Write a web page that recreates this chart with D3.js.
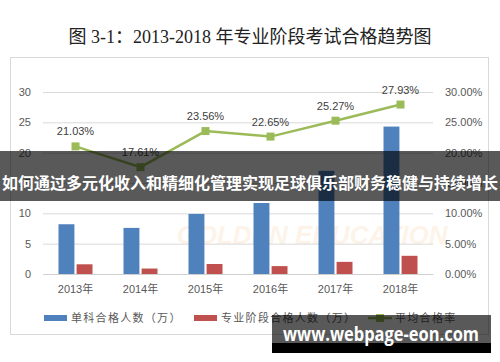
<!DOCTYPE html>
<html>
<head>
<meta charset="utf-8">
<script src="https://cdn.jsdelivr.net/npm/d3@7"></script>
<style>
  body { margin: 0; background: #fff; }
  svg { display: block; }
</style>
</head>
<body>
<svg id="chart" width="500" height="362"></svg>
<script>
// DATA
const years = ["2013年", "2014年", "2015年", "2016年", "2017年", "2018年"];
const singlePass = [8.2, 7.6, 9.9, 11.7, 17.0, 24.3];   // 单科合格人数（万）
const stagePass = [1.6, 0.9, 1.65, 1.3, 2.0, 3.0];      // 专业阶段合格人数（万）
const passRate = [0.2103, 0.1761, 0.2356, 0.2265, 0.2527, 0.2793]; // 平均合格率
const leftTicks = [0, 5, 10, 15, 20, 25, 30];
const rightTicks = [0, 0.05, 0.10, 0.15, 0.20, 0.25, 0.30];
const seriesNames = ["单科合格人数（万）", "专业阶段合格人数（万）", "平均合格率"];

const svg = d3.select("#chart");
const plot = { left: 43, right: 433, top: 92, bottom: 274 };
const colors = { blue: "#4F81BD", red: "#C0504D", green: "#9BBB59" };
const labelFont = "'Liberation Sans', 'Noto Sans CJK SC', sans-serif";

// title + frame
svg.append("text")
  .attr("x", 250).attr("y", 43)
  .attr("text-anchor", "middle")
  .style("font-family", "'Liberation Serif', 'Noto Sans CJK SC', serif")
  .style("font-size", "18px")
  .attr("fill", "#222")
  .text("图 3-1：2013-2018 年专业阶段考试合格趋势图");

svg.append("rect")
  .attr("x", 10.5).attr("y", 57.5)
  .attr("width", 478).attr("height", 277)
  .attr("fill", "none").attr("stroke", "#d9d9d9");

// SCALES
const x = d3.scaleBand().domain(years).range([plot.left, plot.right]);
const x1 = d3.scaleBand().domain(["a", "b"]).range([-17, 17]).paddingInner(0.12);
const y = d3.scaleLinear().domain([0, 30]).range([plot.bottom, plot.top]);
const yR = d3.scaleLinear().domain([0, 0.30]).range([plot.bottom, plot.top]);

// watermark
svg.append("text")
  .attr("x", 312).attr("y", 244)
  .attr("text-anchor", "middle")
  .style("font-family", labelFont)
  .style("font-size", "26px").style("font-style", "italic").style("font-weight", "bold")
  .attr("fill", "#f2b470").attr("opacity", 0.15)
  .text("GOLDEN EDUCATION");

// AXES
const gy = svg.append("g")
  .attr("transform", `translate(${plot.left},0)`)
  .call(d3.axisLeft(y).tickValues(leftTicks).tickSize(-(plot.right - plot.left)).tickPadding(12));
gy.select(".domain").remove();
gy.selectAll(".tick line").attr("stroke", "#d9d9d9");
gy.selectAll(".tick text").attr("fill", "#595959")
  .style("font-family", labelFont).style("font-size", "11px");

const gr = svg.append("g")
  .attr("transform", `translate(${plot.right},0)`)
  .call(d3.axisRight(yR).tickValues(rightTicks).tickSize(0).tickPadding(12).tickFormat(d3.format(".2%")));
gr.select(".domain").remove();
gr.selectAll(".tick text").attr("fill", "#595959")
  .style("font-family", labelFont).style("font-size", "11px");

const gx = svg.append("g")
  .attr("transform", `translate(0,${plot.bottom})`)
  .call(d3.axisBottom(x).tickSize(0).tickPadding(11));
gx.select(".domain").attr("stroke", "#d0d0d0");
gx.selectAll(".tick text").attr("fill", "#595959")
  .style("font-family", labelFont).style("font-size", "11px");

// BARS
const rows = years.map((yr, i) => ({ yr, a: singlePass[i], b: stagePass[i], r: passRate[i] }));
const cx = (d) => x(d.yr) + x.bandwidth() / 2;

svg.append("g").selectAll("rect").data(rows).join("rect")
  .attr("x", (d) => cx(d) + x1("a"))
  .attr("y", (d) => y(d.a))
  .attr("width", x1.bandwidth())
  .attr("height", (d) => y(0) - y(d.a))
  .attr("fill", colors.blue);

svg.append("g").selectAll("rect").data(rows).join("rect")
  .attr("x", (d) => cx(d) + x1("b"))
  .attr("y", (d) => y(d.b))
  .attr("width", x1.bandwidth())
  .attr("height", (d) => y(0) - y(d.b))
  .attr("fill", colors.red);

// LINE
const line = d3.line().x(cx).y((d) => yR(d.r));
svg.append("path").datum(rows)
  .attr("d", line)
  .attr("fill", "none").attr("stroke", colors.green).attr("stroke-width", 2.5);

svg.append("g").selectAll("rect").data(rows).join("rect")
  .attr("x", (d) => cx(d) - 4).attr("y", (d) => yR(d.r) - 4)
  .attr("width", 8).attr("height", 8)
  .attr("fill", colors.green);

svg.append("g").selectAll("text").data(rows).join("text")
  .attr("x", cx).attr("y", (d) => yR(d.r) - 11)
  .attr("text-anchor", "middle")
  .style("font-family", labelFont).style("font-size", "11px")
  .attr("fill", "#404040")
  .text((d) => d3.format(".2%")(d.r));

// LEGEND
const legend = svg.append("g").attr("transform", "translate(44,318)");
const legFont = "'Liberation Serif', 'Noto Sans CJK SC', serif";
const items = [
  { name: seriesNames[0], color: colors.blue, type: "bar", x: 0 },
  { name: seriesNames[1], color: colors.red, type: "bar", x: 150 },
  { name: seriesNames[2], color: colors.green, type: "line", x: 324 },
];
items.forEach((it) => {
  const g = legend.append("g").attr("transform", `translate(${it.x},0)`);
  if (it.type === "bar") {
    g.append("rect").attr("x", 0).attr("y", -3).attr("width", 23).attr("height", 6).attr("fill", it.color);
  } else {
    g.append("line").attr("x1", 0).attr("x2", 24).attr("y1", 0).attr("y2", 0)
      .attr("stroke", it.color).attr("stroke-width", 2.5);
    g.append("rect").attr("x", 8).attr("y", -4).attr("width", 8).attr("height", 8).attr("fill", it.color);
  }
  g.append("text").attr("x", 27).attr("y", 4)
    .style("font-family", legFont).style("font-size", "11px").style("letter-spacing", "1.3px")
    .attr("fill", "#595959")
    .text(it.name);
});

// OVERLAY BANNER
svg.append("rect")
  .attr("x", 0).attr("y", 151).attr("width", 500).attr("height", 50)
  .attr("fill", "#000").attr("opacity", 0.65);
svg.append("text")
  .attr("x", 250).attr("y", 189)
  .attr("text-anchor", "middle")
  .style("font-family", "'Noto Sans CJK SC', sans-serif")
  .style("font-size", "16px").style("font-weight", "bold")
  .attr("fill", "#fff")
  .text("如何通过多元化收入和精细化管理实现足球俱乐部财务稳健与持续增长");

// SITE BADGE
svg.append("rect")
  .attr("x", 272).attr("y", 315).attr("width", 219).attr("height", 38)
  .attr("fill", "#000").attr("opacity", 0.65);
svg.append("rect")
  .attr("x", 272).attr("y", 343).attr("width", 219).attr("height", 10)
  .attr("fill", "#000");
svg.append("text")
  .attr("x", 381).attr("y", 341)
  .attr("text-anchor", "middle")
  .attr("textLength", 196).attr("lengthAdjust", "spacingAndGlyphs")
  .style("font-family", "'Open Sans', 'DejaVu Sans', sans-serif")
  .style("font-size", "19px").style("font-weight", "bold")
  .attr("fill", "#fff")
  .text("www.webpage-eon.com");
</script>
</body>
</html>
